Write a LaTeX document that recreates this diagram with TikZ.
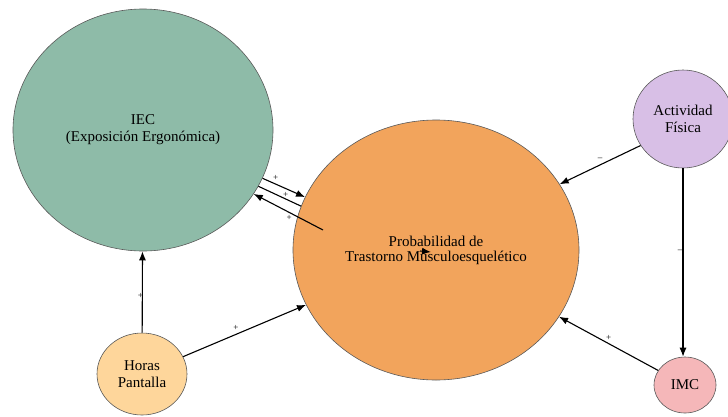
\documentclass[tikz,border=0pt]{standalone}
\usepackage{fontspec}
\setmainfont{Liberation Serif}
\usetikzlibrary{shapes.geometric,arrows.meta}

\definecolor{verdeiec}{RGB}{142,187,168}
\definecolor{naranja}{RGB}{242,164,92}
\definecolor{lila}{RGB}{216,191,230}
\definecolor{durazno}{RGB}{254,214,155}
\definecolor{rosa}{RGB}{245,183,185}

\begin{document}
\begin{tikzpicture}[x=1pt,y=-1pt,
    nodo/.style={ellipse,draw=black!65,line width=0.6pt,inner sep=0pt,align=center,font=\fontsize{15}{17}\selectfont},
    flecha/.style={line width=1.1pt,-{Latex[length=9pt,width=7pt]}},
    signo/.style={font=\fontsize{9}{9}\selectfont,inner sep=0pt}]

    % Marco de la figura
    \useasboundingbox (0,0) rectangle (728,416);

    % Dibuja los nodos
    \node[nodo,fill=verdeiec,minimum width=260pt,minimum height=242pt] (iec) at (143,130) {IEC\\(Exposición Ergonómica)};
    \node[nodo,fill=naranja,minimum width=286pt,minimum height=260pt,font=\fontsize{15}{15}\selectfont] (prob) at (436,250) {Probabilidad de\\Trastorno Musculoesquelético};
    \node[nodo,fill=lila,minimum width=100pt,minimum height=98pt] (act) at (683,119) {Actividad\\Física};
    \node[nodo,fill=durazno,minimum width=90pt,minimum height=82pt] (horas) at (142,374) {Horas\\Pantalla};
    \node[nodo,fill=rosa,minimum width=62pt,minimum height=56pt] (imc) at (685,385) {IMC};

    % Puntos sueltos
    \coordinate (regreso) at (323,230);
    \coordinate (lazoa) at (420,251);
    \coordinate (lazob) at (431,252);

    % Dibuja las flechas entre IEC y la probabilidad
    \draw[flecha] (iec.-22.6) -- (prob.158.4) node[signo,pos=0.31,above=3pt] {+};
    \draw[line width=1.1pt] (iec.-26) -- (prob.162.1) node[signo,pos=0.64,above=1pt] {+};
    \draw[flecha] (regreso) -- (iec.-30.2) node[signo,pos=0.49,below=3pt] {+};
    \draw[flecha] (lazoa) -- (lazob);

    % Dibuja las demás flechas
    \draw[flecha] (horas) -- (iec) node[signo,pos=0.45,xshift=-2pt] {+};
    \draw[flecha] (horas) -- (prob) node[signo,pos=0.43,above=3pt] {+};
    \draw[flecha] (act.-148) -- (prob.28.2) node[signo,pos=0.5,above=4pt] {–};
    \draw[flecha] (act.south) -- (act.south |- imc.north) node[signo,pos=0.44,xshift=-3pt] {–};
    \draw[flecha] (imc) -- (prob) node[signo,pos=0.5,above=3pt] {+};
\end{tikzpicture}
\end{document}
